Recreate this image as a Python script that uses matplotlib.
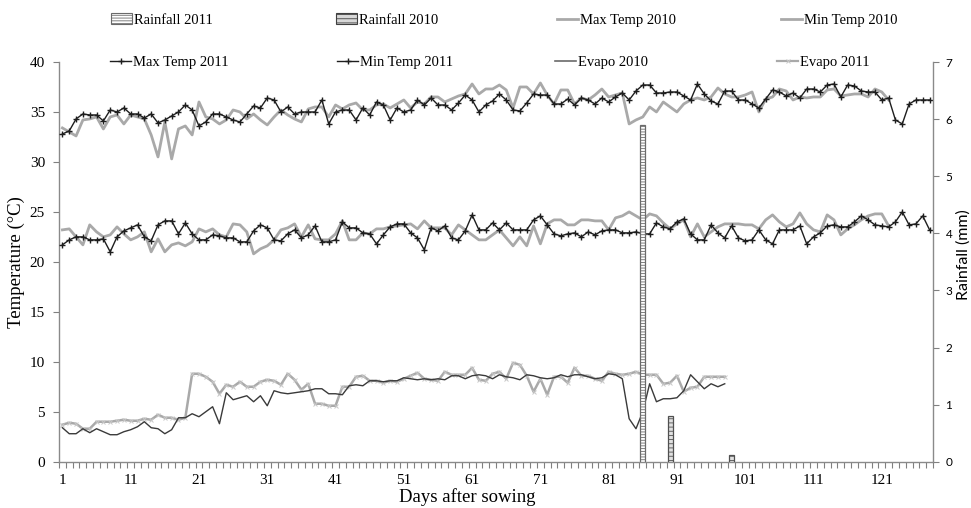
import numpy as np
import matplotlib
matplotlib.use("Agg")
import matplotlib.pyplot as plt
from matplotlib.lines import Line2D
from matplotlib.patches import Patch

# ---------------- data ----------------
max_temp_2010 = [
    33.4, 33.0, 32.6, 34.2, 34.3, 34.5, 33.3, 34.5, 34.7, 33.8,
    34.7, 34.5, 34.3, 32.7, 30.5, 34.0, 30.3, 33.3, 33.6, 32.7,
    36.0, 34.5, 34.3, 33.8, 34.2, 35.2, 35.0, 34.3, 34.8, 34.2,
    33.7, 34.5, 35.2, 34.7, 34.3, 34.0, 35.3, 35.5, 35.5, 34.5,
    35.7, 35.3, 35.7, 35.9, 35.2, 35.2, 35.7, 35.8, 35.4, 35.8,
    36.2, 35.4, 36.0, 35.8, 36.5, 36.5, 36.0, 36.3, 36.6, 36.8,
    37.8, 36.8, 37.3, 37.3, 37.7, 37.2, 35.4, 37.5, 37.5, 36.8,
    37.9, 36.7, 35.8, 37.2, 37.2, 35.8, 36.4, 36.2, 36.7, 37.3,
    36.5, 36.7, 36.9, 33.8, 34.2, 34.5, 35.5, 35.0, 36.0, 35.5,
    35.0, 35.8, 36.2, 36.4, 36.2, 36.5, 37.4, 36.8, 36.5, 36.5,
    36.7, 37.0, 35.0, 36.3, 36.5, 37.3, 37.1, 36.2, 36.5, 36.4,
    36.5, 36.5, 37.2, 37.3, 36.6, 36.7, 36.8, 36.8, 36.5, 37.3,
    37.0, 36.2,
]
min_temp_2010 = [
    23.2, 23.3, 22.5, 21.7, 23.7, 23.0, 22.5, 22.7, 23.5, 22.8,
    22.2, 22.5, 23.0, 21.0, 22.3, 21.0, 21.7, 21.9, 21.6, 22.0,
    23.3, 23.0, 23.3, 22.7, 22.5, 23.8, 23.7, 23.0, 20.8, 21.3,
    21.6, 22.2, 23.2, 23.4, 23.8, 22.5, 23.7, 22.3, 22.2, 22.2,
    22.8, 24.1, 22.2, 22.2, 22.9, 22.8, 23.3, 23.3, 23.5, 23.6,
    23.7, 23.8, 23.3, 24.1, 23.4, 23.4, 23.4, 22.7, 23.7, 23.2,
    22.7, 22.2, 22.2, 22.7, 23.2, 22.4, 21.6, 22.5, 21.6, 23.6,
    21.8, 23.8, 24.2, 24.2, 23.7, 23.7, 24.2, 24.2, 24.1, 24.1,
    23.2, 24.4, 24.6, 25.0, 24.6, 24.2, 24.8, 24.6, 23.9, 23.3,
    23.8, 24.2, 22.5, 23.8, 22.5, 23.0, 23.5, 23.8, 23.8, 23.8,
    23.7, 23.7, 23.3, 24.2, 24.7, 24.0, 23.5, 23.8, 24.9, 23.8,
    23.2, 23.0, 24.7, 24.2, 22.7, 23.3, 23.7, 24.2, 24.6, 24.8,
    24.8, 23.6,
]
max_temp_2011 = [
    32.8, 33.1, 34.3, 34.8, 34.7, 34.7, 34.1, 35.2, 35.0, 35.4,
    34.8, 34.8, 34.4, 34.8, 33.9, 34.2, 34.6, 35.0, 35.7, 35.2,
    33.6, 34.0, 34.8, 34.8, 34.5, 34.2, 34.0, 34.8, 35.6, 35.4,
    36.4, 36.2, 35.0, 35.5, 34.8, 35.0, 35.0, 35.0, 36.2, 33.8,
    35.0, 35.2, 35.2, 34.2, 35.4, 34.7, 36.0, 35.7, 34.2, 35.4,
    35.0, 35.2, 36.2, 35.7, 36.4, 35.7, 35.7, 35.2, 35.9, 36.7,
    36.2, 35.0, 35.7, 36.1, 36.8, 36.2, 35.2, 35.1, 35.9, 36.8,
    36.7, 36.7, 35.8, 35.8, 36.3, 35.7, 36.4, 36.2, 35.8, 36.4,
    36.0, 36.5, 36.9, 36.2, 37.1, 37.7, 37.7, 36.9, 36.9, 37.0,
    37.0, 36.6, 36.2, 37.8, 36.8, 36.1, 35.8, 37.1, 37.1, 36.2,
    36.2, 35.8, 35.4, 36.3, 37.2, 37.0, 36.6, 36.9, 36.4, 37.3,
    37.3, 37.0, 37.7, 37.8, 36.5, 37.7, 37.6, 37.1, 37.0, 37.0,
    36.2, 36.4, 34.2, 33.8, 35.8, 36.2, 36.2, 36.2,
]
min_temp_2011 = [
    21.7, 22.2, 22.5, 22.5, 22.2, 22.2, 22.3, 21.0, 22.5, 23.1,
    23.4, 23.7, 22.5, 22.1, 23.7, 24.1, 24.1, 22.8, 23.9, 22.8,
    22.2, 22.2, 22.7, 22.6, 22.4, 22.4, 22.0, 22.0, 23.1, 23.7,
    23.4, 22.2, 22.1, 22.8, 23.2, 22.4, 22.7, 23.6, 22.0, 22.0,
    22.2, 24.0, 23.4, 23.4, 22.9, 22.8, 21.8, 22.7, 23.5, 23.8,
    23.8, 22.9, 22.4, 21.2, 23.4, 23.1, 23.6, 22.4, 22.2, 23.1,
    24.7, 23.2, 23.2, 23.9, 23.2, 23.9, 23.2, 23.2, 23.2, 24.2,
    24.6, 23.7, 22.8, 22.6, 22.8, 22.9, 22.5, 23.0, 22.7, 23.1,
    23.2, 23.2, 22.9, 22.9, 23.0, 22.8, 22.8, 23.9, 23.5, 23.3,
    24.0, 24.3, 22.8, 22.2, 22.2, 23.7, 22.9, 22.4, 23.6, 22.4,
    22.1, 22.2, 23.2, 22.2, 21.8, 23.2, 23.2, 23.2, 23.6, 21.8,
    22.5, 22.9, 23.6, 23.7, 23.5, 23.5, 24.0, 24.6, 24.2, 23.7,
    23.6, 23.5, 24.0, 25.0, 23.7, 23.8, 24.6, 23.2,
]
evapo_2010 = [
    3.4, 2.8, 2.8, 3.3, 2.9, 3.3, 3.0, 2.7, 2.7, 3.0,
    3.2, 3.5, 4.0, 3.4, 3.3, 2.8, 3.2, 4.4, 4.4, 4.8,
    4.5, 5.0, 5.5, 3.8, 6.9, 6.2, 6.4, 6.6, 6.0, 6.6,
    5.6, 7.1, 6.9, 6.8, 6.9, 7.0, 7.1, 7.3, 7.3, 6.8,
    6.8, 6.7, 7.6, 7.7, 7.6, 8.1, 8.1, 8.0, 8.1, 8.1,
    8.4, 8.3, 8.2, 8.3, 8.2, 8.3, 8.2, 8.6, 8.6, 8.3,
    8.6, 8.7, 8.6, 8.3, 8.7, 8.5, 8.4, 8.2, 8.7, 8.6,
    8.4, 8.3, 8.4, 8.7, 8.5, 8.7, 8.7, 8.5, 8.3, 8.4,
    8.8, 8.7, 8.3, 4.3, 3.3, 5.0, 7.8, 6.0, 6.3, 6.3,
    6.4, 7.1, 8.7, 8.0, 7.3, 7.8, 7.5, 7.8,
]
evapo_2011 = [
    3.7, 3.9, 3.8, 3.3, 3.3, 4.0, 4.0, 4.0, 4.1, 4.2,
    4.1, 4.1, 4.3, 4.2, 4.7, 4.4, 4.4, 4.2, 4.4, 8.8,
    8.8, 8.5, 8.0, 6.8, 7.7, 7.5, 8.0, 7.5, 7.5, 8.0,
    8.2, 8.1, 7.7, 8.8, 8.2, 7.2, 7.8, 5.8, 5.8, 5.6,
    5.6, 7.5, 7.5, 8.5, 8.6, 8.1, 8.1, 7.9, 8.1, 8.0,
    8.3, 8.6, 8.9, 8.3, 8.2, 8.1, 9.0, 8.7, 8.7, 8.7,
    9.4, 8.2, 8.1, 8.8, 9.0, 8.3, 9.9, 9.7, 8.6, 7.0,
    8.3, 6.7, 8.5, 8.5, 7.9, 9.4, 8.6, 8.6, 8.3, 8.1,
    9.0, 8.8, 8.7, 8.8, 9.0, 8.7, 8.7, 8.7, 7.8, 7.9,
    8.6, 7.0, 7.4, 7.5, 8.5, 8.5, 8.5, 8.5,
]
rain_days_2011 = [86]
rain_2011 = [5.9]
rain_days_2010 = [90, 99]
rain_2010 = [0.8, 0.12]
x_tick_labels = [1, 11, 21, 31, 41, 51, 61, 71, 81, 91, 101, 111, 121]
n_days = 128

# ---------------- figure ----------------
plt.rcParams["font.family"] = ["Liberation Serif", "DejaVu Serif"]
plt.rcParams["hatch.linewidth"] = 0.6

W, H = 971, 508
fig = plt.figure(figsize=(W / 100, H / 100), dpi=100)
L, R, T, B = 59, 933, 62, 461.7
ax = fig.add_axes([L / W, 1 - B / H, (R - L) / W, (B - T) / H])
ax2 = ax.twinx()


def days(v):
    return np.arange(1, len(v) + 1)


gray = "#a9a9a9"
ax.plot(days(max_temp_2010), max_temp_2010, color=gray, lw=2.0, zorder=2)
ax.plot(days(min_temp_2010), min_temp_2010, color=gray, lw=2.0, zorder=2)
ax.plot(days(evapo_2011), evapo_2011, color=gray, lw=1.8, marker="x", ms=3,
        mew=0.7, mec="#c8c8c8", zorder=2)
ax.plot(days(evapo_2010), evapo_2010, color="#3a3a3a", lw=1.0, zorder=3)
ax.plot(days(max_temp_2011), max_temp_2011, color="#1e1e1e", lw=1.0,
        marker="+", ms=5, mew=1.0, zorder=4)
ax.plot(days(min_temp_2011), min_temp_2011, color="#1e1e1e", lw=1.0,
        marker="+", ms=5, mew=1.0, zorder=4)

ax2.bar(rain_days_2011, rain_2011, width=0.7, facecolor="white",
        edgecolor="#6a6a6a", hatch="------", lw=0.9, zorder=3)
ax2.bar(rain_days_2010, rain_2010, width=0.7, facecolor="#e0e0e0",
        edgecolor="#505050", hatch="----", lw=0.9, zorder=3)

# axes styling
ax.set_xlim(0.5, n_days + 0.5)
ax.set_ylim(0, 40)
ax2.set_ylim(0, 7)
ax.set_yticks(range(0, 41, 5))
ax2.set_yticks(range(0, 8))

ax.set_xticks(np.arange(0.5, n_days + 1, 1))
ax.set_xticklabels([])
ax.set_xticks(x_tick_labels, minor=True)
ax.set_xticklabels([str(v) for v in x_tick_labels], minor=True)
ax.tick_params(axis="x", which="major", direction="out", length=4,
               color="#808080", width=0.8)
ax.tick_params(axis="x", which="minor", length=0, pad=9, labelsize=11)
ax.tick_params(axis="y", direction="out", length=4, color="#808080",
               width=0.8, labelsize=11, pad=6)
ax2.tick_params(axis="y", direction="out", length=4, color="#808080",
                width=0.8, labelsize=8.5, pad=5)
for lab in ax2.get_yticklabels():
    lab.set_fontfamily(["Lato", "DejaVu Sans"])

for a in (ax, ax2):
    a.spines["top"].set_visible(False)
ax.spines["right"].set_visible(False)
ax2.spines["left"].set_visible(False)
ax2.spines["bottom"].set_visible(False)
for s in ("left", "bottom"):
    ax.spines[s].set_color("#8a8a8a")
    ax.spines[s].set_linewidth(1.0)
ax2.spines["right"].set_color("#8a8a8a")
ax2.spines["right"].set_linewidth(1.0)

ax.set_xlabel("Days after sowing", fontsize=13.5)
ax.xaxis.set_label_coords(0.467, -0.066)
ax.set_ylabel("Temperature (\u00b0C)", fontsize=13.5)
ax.yaxis.set_label_coords(-0.039, 0.5)
ax2.set_ylabel("Rainfall (mm)", fontsize=11.5, family=["Lato", "DejaVu Sans"])
ax2.yaxis.set_label_coords(1.027, 0.517)

# legend (two rows of four entries)
h_r11 = Patch(facecolor="white", edgecolor="#6a6a6a", hatch="------", lw=0.8)
h_r10 = Patch(facecolor="#d8d8d8", edgecolor="#404040", hatch="----", lw=0.8)
h_mx10 = Line2D([], [], color=gray, lw=2.0)
h_mn10 = Line2D([], [], color=gray, lw=2.0)
h_mx11 = Line2D([], [], color="#1e1e1e", lw=1.0, marker="+", ms=5, mew=1.0)
h_mn11 = Line2D([], [], color="#1e1e1e", lw=1.0, marker="+", ms=5, mew=1.0)
h_ev10 = Line2D([], [], color="#6a6a6a", lw=1.2)
h_ev11 = Line2D([], [], color=gray, lw=1.6, marker="x", ms=3, mew=0.7,
                mec="#c8c8c8")

entries = [
    (h_r11, "Rainfall 2011", 111, 20),
    (h_r10, "Rainfall 2010", 336, 20),
    (h_mx10, "Max Temp 2010", 557, 20),
    (h_mn10, "Min Temp 2010", 781, 20),
    (h_mx11, "Max Temp 2011", 110, 62),
    (h_mn11, "Min Temp 2011", 337, 62),
    (h_ev10, "Evapo 2010", 555, 62),
    (h_ev11, "Evapo 2011", 777, 62),
]
for h, lab, px, py in entries:
    leg = fig.legend(handles=[h], labels=[lab], loc="center left",
                     bbox_to_anchor=(px / W, 1 - py / H), frameon=False,
                     fontsize=10.5, handlelength=1.45, handletextpad=0.1,
                     borderpad=0, borderaxespad=0)

fig.savefig("out.png", dpi=100)
